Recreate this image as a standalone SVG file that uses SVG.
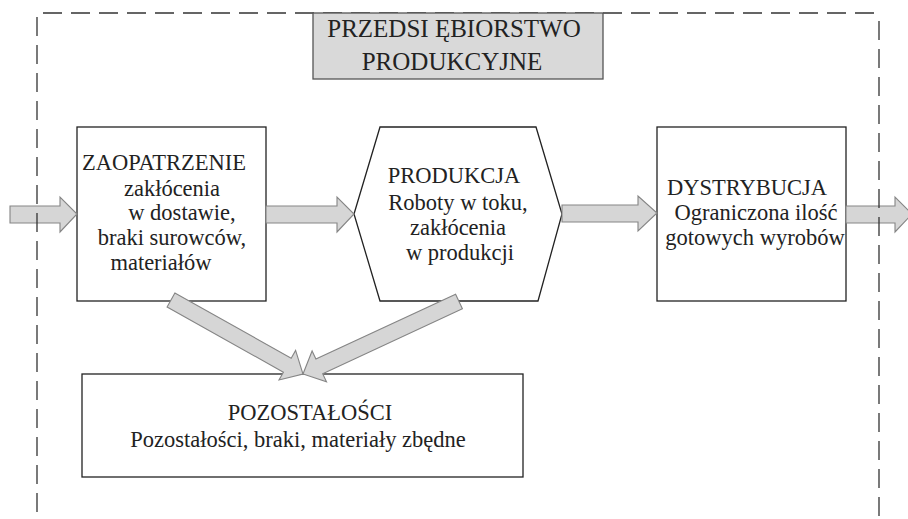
<svg xmlns="http://www.w3.org/2000/svg" width="908" height="519" viewBox="0 0 908 519">
<style>
.box{fill:#fff;stroke:#222;stroke-width:1.3}
.arr{fill:#d6d6d6;stroke:#858585;stroke-width:1.1;stroke-linejoin:miter}
.frame{fill:none;stroke:#333;stroke-width:1.3;stroke-dasharray:19 9}
text{font-family:"Liberation Serif","Times New Roman",serif;font-size:22.5px;fill:#222;text-anchor:middle}
.t{font-size:25px}
</style>
<rect width="908" height="519" fill="#fff"/>
<g id="zaopatrzenie">
<rect class="box" x="77" y="127" width="189" height="174"/>
<text x="164" y="170">ZAOPATRZENIE</text>
<text x="172" y="196">zakłócenia</text>
<text x="182" y="220">w dostawie,</text>
<text x="172" y="245">braki surowców,</text>
<text x="161" y="270">materiałów</text>
</g>
<g id="produkcja">
<polygon class="box" points="354,214 380,127 536,127 562,214 538,301 380,301"/>
<text x="454" y="183">PRODUKCJA</text>
<text x="458" y="210">Roboty w toku,</text>
<text x="458" y="235">zakłócenia</text>
<text x="460" y="260">w produkcji</text>
</g>
<g id="dystrybucja">
<rect class="box" x="657" y="127" width="189" height="174"/>
<text x="747" y="195">DYSTRYBUCJA</text>
<text x="756" y="220">Ograniczona ilość</text>
<text x="755" y="245">gotowych wyrobów</text>
</g>
<g id="pozostalosci">
<rect class="box" x="82" y="374" width="441" height="103"/>
<text x="310" y="420">POZOSTAŁOŚCI</text>
<text x="298" y="447">Pozostałości, braki, materiały zbędne</text>
</g>
<g id="connectors">
<polygon class="arr" points="10,206 60,206 60,197 77,214 60,232 60,223 10,223"/>
<polygon class="arr" points="266,206 337,206 337,197 354,214 337,232 337,223 266,223"/>
<polygon class="arr" points="562,205 638,205 638,196 657,213 638,231 638,222 562,222"/>
<polygon class="arr" points="846,206 895,206 895,197 912,214 895,232 895,223 846,223"/>
<polygon class="arr" points="167.1,307 174.9,293 291.2,358.2 295.6,350.4 303,374 279,380 283.4,372.2"/>
<polygon class="arr" points="455.6,294.2 462.4,308.8 322.7,373.7 326.5,381.8 303,374 312.1,351 315.9,359.1"/>
</g>
<g id="frame">
<line class="frame" x1="43" y1="13" x2="879" y2="13"/>
<line class="frame" x1="37" y1="17" x2="37" y2="519"/>
<line class="frame" x1="879" y1="21" x2="879" y2="519"/>
</g>
<g id="title">
<rect x="313" y="13" width="290" height="66" fill="#d9d9d9" stroke="#555" stroke-width="1.3"/>
<text class="t" x="454" y="37">PRZEDSI ĘBIORSTWO</text>
<text class="t" x="452" y="70">PRODUKCYJNE</text>
</g>
</svg>
